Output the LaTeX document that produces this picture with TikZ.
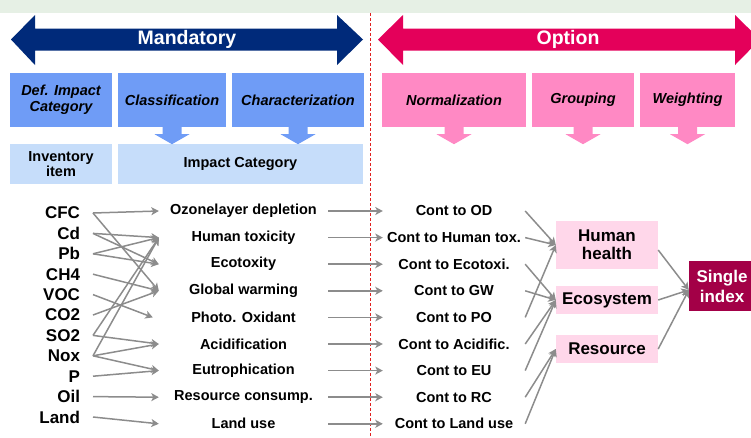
\documentclass[tikz,border=0pt]{standalone}
\usepackage{fontspec}
\setmainfont{Liberation Sans}
\usetikzlibrary{arrows.meta}

\definecolor{mandblue}{HTML}{002A7A}
\definecolor{optred}{HTML}{E4005A}
\definecolor{stageblue}{HTML}{6F9CF6}
\definecolor{paleblue}{HTML}{C6DDFA}
\definecolor{stagepink}{HTML}{FF89C4}
\definecolor{palepink}{HTML}{FFD7EA}
\definecolor{idxred}{HTML}{A30047}
\definecolor{linkgray}{HTML}{8C8C8C}
\definecolor{splitred}{HTML}{E02020}
\definecolor{bandgreen}{HTML}{E6F0E5}

\begin{document}
\begin{tikzpicture}[x=1pt, y=-1pt,
  every node/.style={inner sep=0pt},
  hdr/.style={font=\bfseries\fontsize{19.5}{21}\selectfont, text=white},
  stage/.style={font=\bfseries\itshape\fontsize{14.5}{15.7}\selectfont, align=center, minimum height=54},
  base/.style={font=\bfseries\fontsize{14.5}{15.7}\selectfont, align=center, fill=paleblue},
  emis/.style={font=\bfseries\fontsize{17}{18}\selectfont, anchor=east, outer xsep=13pt},
  cat/.style={font=\bfseries\fontsize{14.5}{16}\selectfont, minimum width=169},
  cont/.style={font=\bfseries\fontsize{14.5}{16}\selectfont, minimum width=142},
  grp/.style={font=\bfseries\fontsize{17}{18}\selectfont, align=center, fill=palepink, minimum width=102},
  link/.style={draw=linkgray, line width=1.5pt, -{Stealth[length=7.5pt, width=8pt, inset=2pt]}}]
\useasboundingbox (0,0) rectangle (751,437);
\fill[bandgreen] (0,0) rectangle (751,13);

% big arrows
\fill[mandblue] (11,39.5) -- (35,15) -- (35,28.5) -- (337,28.5) -- (337,15) -- (363,39.5)
  -- (337,65) -- (337,50.5) -- (35,50.5) -- (35,65) -- cycle;
\node[hdr] (mand) at (187,39.5) {Mandatory};
\fill[optred] (378,39.5) -- (403,15) -- (403,28.5) -- (735,28.5) -- (735,15) -- (760,39.5)
  -- (735,65) -- (735,50.5) -- (403,50.5) -- (403,65) -- cycle;
\node[hdr] (opt) at (568,39.5) {Option};

\draw[splitred, line width=1.2pt, dash pattern=on 3pt off 2pt] (370.5,13) -- (370.5,437);

% stages
\node[stage, fill=stageblue, minimum width=102] (defic) at (61,100) {Def. Impact\\Category};
\node[stage, fill=stageblue, minimum width=108] (cls) at (172,100) {Classification};
\node[stage, fill=stageblue, minimum width=132] (chr) at (298,100) {Characterization};
\node[stage, fill=stagepink, minimum width=144] (nrm) at (454,100) {Normalization};
\node[stage, fill=stagepink, minimum width=102] (grpg) at (583,100) {Grouping};
\node[stage, fill=stagepink, minimum width=95] (wgt) at (687.5,100) {Weighting};
\node[base, minimum width=102, minimum height=40] (inv) at (61,164) {Inventory\\item};
\node[base, minimum width=245, minimum height=40] (impc) at (240.5,164) {Impact Category};

\fill[stageblue] (cls.south) ++(-9.5,0) -- ++(19,0) -- ++(0,7) -- ++(8,0) -- ++(-17.5,10) -- ++(-17.5,-10) -- ++(8,0) -- cycle;
\fill[stageblue] (chr.south) ++(-9.5,0) -- ++(19,0) -- ++(0,7) -- ++(8,0) -- ++(-17.5,10) -- ++(-17.5,-10) -- ++(8,0) -- cycle;
\fill[stagepink] (nrm.south) ++(-9.5,0) -- ++(19,0) -- ++(0,7) -- ++(8,0) -- ++(-17.5,10) -- ++(-17.5,-10) -- ++(8,0) -- cycle;
\fill[stagepink] (grpg.south) ++(-9.5,0) -- ++(19,0) -- ++(0,7) -- ++(8,0) -- ++(-17.5,10) -- ++(-17.5,-10) -- ++(8,0) -- cycle;
\fill[stagepink] (wgt.south) ++(-9.5,0) -- ++(19,0) -- ++(0,7) -- ++(8,0) -- ++(-17.5,10) -- ++(-17.5,-10) -- ++(8,0) -- cycle;

% inventory items
\node[emis] (cfc) at (93,213) {CFC};
\node[emis] (cd) at (93,233.4) {Cd};
\node[emis] (pb) at (93,253.8) {Pb};
\node[emis] (ch4) at (93,274.2) {CH4};
\node[emis] (voc) at (93,294.6) {VOC};
\node[emis] (co2) at (93,315) {CO2};
\node[emis] (so2) at (93,335.4) {SO2};
\node[emis] (nox) at (93,355.8) {Nox};
\node[emis] (p) at (93,376.2) {P};
\node[emis] (oil) at (93,396.6) {Oil};
\node[emis] (land) at (93,417) {Land};

% impact categories
\node[cat] (od) at (243.5,211) {Ozonelayer depletion};
\node[cat] (ht) at (243.5,237.6) {Human toxicity};
\node[cat] (eco) at (243.5,264.2) {Ecotoxity};
\node[cat] (gw) at (243.5,290.8) {Global warming};
\node[cat] (po) at (243.5,317.4) {Photo. Oxidant};
\node[cat] (acid) at (243.5,344) {Acidification};
\node[cat] (eu) at (243.5,370.6) {Eutrophication};
\node[cat] (rc) at (243.5,397.2) {Resource consump.};
\node[cat] (lu) at (243.5,423.8) {Land use};

% category indicators
\node[cont] (cod) at (454,211) {Cont to OD};
\node[cont] (cht) at (454,237.6) {Cont to Human tox.};
\node[cont] (ceco) at (454,264.2) {Cont to Ecotoxi.};
\node[cont] (cgw) at (454,290.8) {Cont to GW};
\node[cont] (cpo) at (454,317.4) {Cont to PO};
\node[cont] (cacid) at (454,344) {Cont to Acidific.};
\node[cont] (ceu) at (454,370.6) {Cont to EU};
\node[cont] (crc) at (454,397.2) {Cont to RC};
\node[cont] (clu) at (454,423.8) {Cont to Land use};

% groups
\node[grp, minimum height=48] (hh) at (607,245) {Human\\health};
\node[grp, minimum height=28] (ecs) at (607,300) {Ecosystem};
\node[grp, minimum height=28] (res) at (607,349) {Resource};
\node[font=\bfseries\fontsize{17}{20}\selectfont, align=center, text=white, fill=idxred,
  minimum width=66, minimum height=50] (idx) at (722,286) {Single\\index};

% classification links
\draw[link] (cfc.east) -- (od.west);
\draw[link] (cfc.east) -- (gw.west);
\draw[link] (cd.east) -- (ht.west);
\draw[link] (cd.east) -- (eco.west);
\draw[link] (pb.east) -- (ht.west);
\draw[link] (pb.east) -- (eco.west);
\draw[link] (ch4.east) -- (gw.west);
\draw[link] (voc.east) -- ([xshift=-6pt]po.west);
\draw[link] (co2.east) -- (gw.west);
\draw[link] (so2.east) -- (ht.west);
\draw[link] (so2.east) -- (acid.west);
\draw[link] (nox.east) -- (ht.west);
\draw[link] (nox.east) -- (acid.west);
\draw[link] (nox.east) -- (eu.west);
\draw[link] (p.east) -- (eu.west);
\draw[link] (oil.east) -- (rc.west);
\draw[link] (land.east) -- (lu.west);

% characterization links
\draw[link] (od.east) -- (cod.west);
\draw[link] (ht.east) -- (cht.west);
\draw[link] (eco.east) -- (ceco.west);
\draw[link] (gw.east) -- (cgw.west);
\draw[link] (po.east) -- (cpo.west);
\draw[link] (acid.east) -- (cacid.west);
\draw[link] (eu.east) -- (ceu.west);
\draw[link] (rc.east) -- (crc.west);
\draw[link] (lu.east) -- (clu.west);

% grouping links
\draw[link] (cod.east) -- (hh.west);
\draw[link] (cht.east) -- (hh.west);
\draw[link] (cpo.east) -- (hh.west);
\draw[link] (ceco.east) -- (ecs.west);
\draw[link] (cgw.east) -- (ecs.west);
\draw[link] (cacid.east) -- (ecs.west);
\draw[link] (ceu.east) -- (ecs.west);
\draw[link] (crc.east) -- (res.west);
\draw[link] (clu.east) -- (res.west);

% weighting links
\draw[link] ([yshift=-5pt]hh.east) -- ([yshift=-4pt]idx.west);
\draw[link] (ecs.east) -- ([yshift=-4pt]idx.west);
\draw[link] (res.east) -- ([yshift=-4pt]idx.west);
\end{tikzpicture}
\end{document}
